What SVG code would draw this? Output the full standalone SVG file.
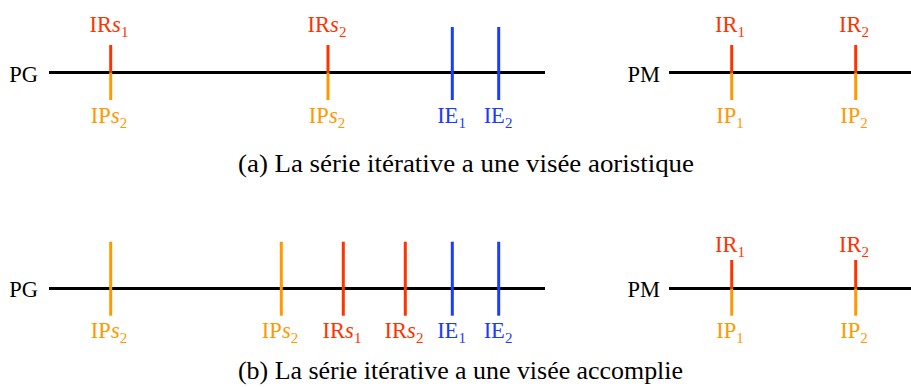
<svg xmlns="http://www.w3.org/2000/svg" width="911" height="387" viewBox="0 0 911 387">
<style>
.axis{stroke:#000;stroke-width:3.2;fill:none}
.r{stroke:#ff3300;stroke-width:3}
.o{stroke:#ff9900;stroke-width:3}
.b{stroke:#1a3cff;stroke-width:3}
.tr{fill:#ff3300;text-anchor:middle}
.to{fill:#ff9900;text-anchor:middle}
.tb{fill:#1a3cff;text-anchor:middle}
.lab{fill:#000;text-anchor:end}
.cap{fill:#000;text-anchor:middle;font-size:25px}
.i{font-style:italic}
.sub{font-size:15px}
</style>
<rect width="911" height="387" fill="#fff"/>
<g id="connectors">
<line class="axis" x1="49" y1="72.5" x2="545" y2="72.5"/>
<line class="axis" x1="669" y1="72.5" x2="911" y2="72.5"/>
<line class="axis" x1="49" y1="288.5" x2="545" y2="288.5"/>
<line class="axis" x1="669" y1="288.5" x2="911" y2="288.5"/>
</g>
<g font-family="Liberation Serif, Times New Roman, serif" font-size="22.5">
<g id="panel-a">
<text id="pg-a" class="lab" x="38" y="81.5">PG</text>
<g id="a-irs1"><line class="r" x1="110.7" y1="45" x2="110.7" y2="72.5"/><line class="o" x1="110.7" y1="72.5" x2="110.7" y2="100"/>
<text class="tr" x="109" y="31.7">IR<tspan class="i">s</tspan><tspan class="sub" dy="5">1</tspan></text>
<text class="to" x="109" y="122.7">IP<tspan class="i">s</tspan><tspan class="sub" dy="5">2</tspan></text></g>
<g id="a-irs2"><line class="r" x1="328" y1="45" x2="328" y2="72.5"/><line class="o" x1="328" y1="72.5" x2="328" y2="100"/>
<text class="tr" x="327" y="31.7">IR<tspan class="i">s</tspan><tspan class="sub" dy="5">2</tspan></text>
<text class="to" x="327" y="122.7">IP<tspan class="i">s</tspan><tspan class="sub" dy="5">2</tspan></text></g>
<g id="a-ie1"><line class="b" x1="452.3" y1="27" x2="452.3" y2="100"/>
<text class="tb" x="451.5" y="122.7">IE<tspan class="sub" dy="5">1</tspan></text></g>
<g id="a-ie2"><line class="b" x1="498.7" y1="27" x2="498.7" y2="100"/>
<text class="tb" x="498" y="122.7">IE<tspan class="sub" dy="5">2</tspan></text></g>
<text id="pm-a" class="lab" x="660" y="81.5">PM</text>
<g id="a-ir1"><line class="r" x1="731.7" y1="45" x2="731.7" y2="72.5"/><line class="o" x1="731.7" y1="72.5" x2="731.7" y2="100"/>
<text class="tr" x="730" y="31.7">IR<tspan class="sub" dy="5">1</tspan></text>
<text class="to" x="730" y="122.7">IP<tspan class="sub" dy="5">1</tspan></text></g>
<g id="a-ir2"><line class="r" x1="855.7" y1="45" x2="855.7" y2="72.5"/><line class="o" x1="855.7" y1="72.5" x2="855.7" y2="100"/>
<text class="tr" x="854" y="31.7">IR<tspan class="sub" dy="5">2</tspan></text>
<text class="to" x="854" y="122.7">IP<tspan class="sub" dy="5">2</tspan></text></g>
<text id="cap-a" class="cap" x="466" y="171.7" textLength="456" lengthAdjust="spacingAndGlyphs">(a) La série itérative a une visée aoristique</text>
</g>
<g id="panel-b">
<text id="pg-b" class="lab" x="38" y="297">PG</text>
<g id="b-ips2a"><line class="o" x1="110.7" y1="241.7" x2="110.7" y2="315.7"/>
<text class="to" x="109" y="338.3">IP<tspan class="i">s</tspan><tspan class="sub" dy="5">2</tspan></text></g>
<g id="b-ips2b"><line class="o" x1="281.3" y1="241.7" x2="281.3" y2="315.7"/>
<text class="to" x="280" y="338.3">IP<tspan class="i">s</tspan><tspan class="sub" dy="5">2</tspan></text></g>
<g id="b-irs1"><line class="r" x1="343.3" y1="241.7" x2="343.3" y2="315.7"/>
<text class="tr" x="342" y="338.3">IR<tspan class="i">s</tspan><tspan class="sub" dy="5">1</tspan></text></g>
<g id="b-irs2"><line class="r" x1="405.3" y1="241.7" x2="405.3" y2="315.7"/>
<text class="tr" x="404" y="338.3">IR<tspan class="i">s</tspan><tspan class="sub" dy="5">2</tspan></text></g>
<g id="b-ie1"><line class="b" x1="452.3" y1="241.7" x2="452.3" y2="315.7"/>
<text class="tb" x="451.5" y="338.3">IE<tspan class="sub" dy="5">1</tspan></text></g>
<g id="b-ie2"><line class="b" x1="498.7" y1="241.7" x2="498.7" y2="315.7"/>
<text class="tb" x="498" y="338.3">IE<tspan class="sub" dy="5">2</tspan></text></g>
<text id="pm-b" class="lab" x="660" y="297">PM</text>
<g id="b-ir1"><line class="r" x1="731.7" y1="260" x2="731.7" y2="288.5"/><line class="o" x1="731.7" y1="288.5" x2="731.7" y2="315.7"/>
<text class="tr" x="730" y="251.7">IR<tspan class="sub" dy="5">1</tspan></text>
<text class="to" x="730" y="338.3">IP<tspan class="sub" dy="5">1</tspan></text></g>
<g id="b-ir2"><line class="r" x1="855.7" y1="260" x2="855.7" y2="288.5"/><line class="o" x1="855.7" y1="288.5" x2="855.7" y2="315.7"/>
<text class="tr" x="854" y="251.7">IR<tspan class="sub" dy="5">2</tspan></text>
<text class="to" x="854" y="338.3">IP<tspan class="sub" dy="5">2</tspan></text></g>
<text id="cap-b" class="cap" x="460.5" y="379" textLength="445" lengthAdjust="spacingAndGlyphs">(b) La série itérative a une visée accomplie</text>
</g>
</g>
</svg>
